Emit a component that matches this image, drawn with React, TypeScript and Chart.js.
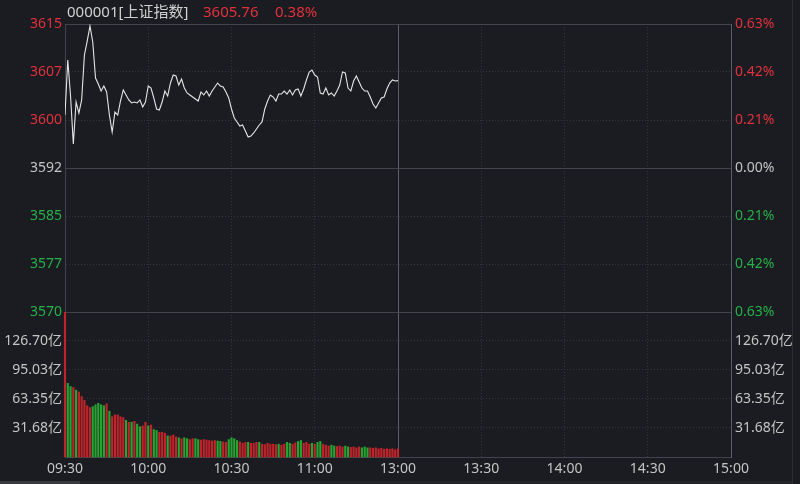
import { useEffect, useRef } from "react"
import { Chart, registerables } from "chart.js"

Chart.register(...registerables)

// previous close and axis spacing (points per grid step)
const prevClose = 3592.11
const priceStep = 7.5
const volMax = 158.37

const stockName = "000001[上证指数]"
const timeLabels = ["09:30", "10:00", "10:30", "11:00", "13:00", "13:30", "14:00", "14:30", "15:00"]
const priceTickLabels = ["3570", "3577", "3585", "3592", "3600", "3607", "3615"]
const pctTickLabels = ["0.63%", "0.42%", "0.21%", "0.00%", "0.21%", "0.42%", "0.63%"]
const volTickValues = [31.68, 63.35, 95.03, 126.7]
const volTickLabels = ["31.68亿", "63.35亿", "95.03亿", "126.70亿"]

// one price per minute, 09:30 - 11:30
const prices = [
  3600.39, 3608.99, 3603.36, 3595.86, 3602.42, 3600.7, 3602.74, 3609.77, 3611.95, 3614.3,
  3611.8, 3606.17, 3605.24, 3604.14, 3604.92, 3603.99, 3600.39, 3597.74, 3600.86, 3600.39,
  3602.58, 3604.3, 3603.52, 3602.74, 3602.27, 3602.42, 3602.27, 3602.74, 3601.64, 3602.42,
  3604.92, 3604.61, 3603.05, 3601.33, 3601.17, 3602.42, 3604.14, 3603.36, 3605.39, 3606.64,
  3606.49, 3605.08, 3606.02, 3604.61, 3603.83, 3603.52, 3603.2, 3602.89, 3602.58, 3603.99,
  3603.52, 3604.14, 3603.36, 3604.14, 3604.77, 3605.39, 3604.92, 3604.77, 3603.99, 3603.05,
  3601.33, 3599.92, 3599.3, 3598.67, 3598.83, 3597.89, 3596.95, 3597.11, 3597.58, 3598.2,
  3598.83, 3599.3, 3601.33, 3602.58, 3603.52, 3603.2, 3602.58, 3603.67, 3603.67, 3604.14,
  3603.67, 3604.3, 3603.52, 3604.3, 3604.45, 3603.36, 3604.45, 3605.86, 3607.11, 3607.42,
  3606.64, 3606.33, 3603.83, 3603.67, 3604.61, 3603.52, 3603.83, 3603.36, 3604.14, 3605.08,
  3607.11, 3606.95, 3604.61, 3604.14, 3605.7, 3606.49, 3605.55, 3604.61, 3604.14, 3604.14,
  3603.2, 3602.11, 3601.48, 3602.27, 3603.05, 3603.2, 3604.45, 3605.39, 3605.86, 3605.7,
  3605.76,
]

// turnover per minute, 亿
const volumes = [
  158, 80.5, 77, 76, 73, 71, 66, 62, 56, 54,
  55, 57, 58.6, 57, 56, 58, 50, 44, 46, 46,
  44, 43, 40, 38, 38, 39, 36, 33, 34, 38,
  34, 35, 30, 29, 27, 27, 26, 23, 23, 24,
  22, 21, 20, 21, 20, 19, 20, 20, 19, 18.5,
  19, 18.5, 18, 17.5, 18, 17.5, 17, 16.5, 16, 19,
  21, 20, 18, 16.5, 15, 16, 16, 15, 15, 16,
  16, 14, 13.5, 15, 14, 14, 13.5, 14, 13, 14,
  16, 15, 14, 15.5, 17, 18, 15, 16, 14, 15,
  14, 16, 17, 14, 13, 12, 13, 12, 11.5, 12,
  11, 12, 11, 10.5, 11, 10, 11, 10, 11, 10,
  10, 9.5, 10, 9, 9.5, 8.5, 9, 8.5, 9, 8,
  9,
]

// r = up minute, g = down minute
const volumeDirs = [
  "r", "g", "g", "r", "g", "r", "r", "r", "r", "r",
  "g", "g", "g", "g", "g", "r", "g", "r", "r", "r",
  "r", "r", "g", "r", "g", "r", "g", "g", "r", "r",
  "g", "r", "g", "g", "r", "r", "r", "g", "r", "r",
  "r", "g", "r", "g", "g", "r", "r", "g", "g", "r",
  "r", "r", "r", "r", "r", "g", "g", "r", "r", "g",
  "g", "g", "g", "r", "r", "r", "g", "r", "r", "r",
  "g", "r", "r", "r", "r", "r", "r", "g", "r", "r",
  "g", "g", "r", "r", "g", "g", "r", "r", "r", "g",
  "r", "g", "g", "r", "r", "r", "g", "g", "r", "r",
  "r", "g", "g", "r", "r", "r", "r", "g", "g", "g",
  "r", "r", "r", "r", "r", "r", "r", "r", "r", "r",
  "r",
]

const FONT = "'Noto Sans', 'Noto Sans CJK SC', sans-serif"
const BG = "#1b1c21"
const RED = "#e0323c"
const GREEN = "#25b04a"
const GRAY = "#c4c4c4"
const BAR_RED = "#c0242a"
const BAR_GREEN = "#26a532"
const GRID = "#33353c"
const SOLID = "#41444c"
const BRIGHT = "#5a5d65"

const priceTicks = priceTickLabels.map((_, i) => prevClose + (i - 3) * priceStep)
const sideColor = (i: number) => (i < 3 ? GREEN : i > 3 ? RED : GRAY)
const solidPriceLine = (i: number) => i === 0 || i === 3 || i === 6

export default function App() {
  const canvasRef = useRef<HTMLCanvasElement>(null)
  const chartRef = useRef<Chart | null>(null)

  const last = prices[prices.length - 1]
  const changePct = ((last / prevClose - 1) * 100).toFixed(2) + "%"

  useEffect(() => {
    const ctx = canvasRef.current?.getContext("2d")
    if (!ctx) return
    if (chartRef.current) chartRef.current.destroy()

    const tickFont = { family: FONT, size: 14 }

    chartRef.current = new Chart(ctx, {
      type: "bar",
      data: {
        datasets: [
          {
            type: "line",
            data: prices.map((p, i) => ({ x: i, y: p })),
            xAxisID: "x",
            yAxisID: "price",
            borderColor: "#e6e6e6",
            borderWidth: 1.1,
            pointRadius: 0,
            tension: 0,
          },
          {
            type: "bar",
            data: volumes.map((v, i) => ({ x: i, y: v })),
            xAxisID: "x",
            yAxisID: "vol",
            backgroundColor: volumeDirs.map((d) => (d === "r" ? BAR_RED : BAR_GREEN)),
            barThickness: 1.5,
            clip: false,
          },
        ] as any,
      },
      options: {
        responsive: true,
        maintainAspectRatio: false,
        animation: false,
        events: [],
        layout: { padding: { top: 24, left: 0, right: 0, bottom: 0 } },
        plugins: { legend: { display: false }, tooltip: { enabled: false } },
        scales: {
          x: {
            type: "linear",
            min: 0,
            max: 240,
            offset: false,
            afterBuildTicks: (s: any) => {
              s.ticks = timeLabels.map((_, i) => ({ value: i * 30 }))
            },
            afterFit: (s: any) => {
              s.height = 27
            },
            ticks: {
              callback: (_v: any, i: number) => timeLabels[i],
              color: GRAY,
              font: tickFont,
              padding: 4,
              maxRotation: 0,
              autoSkip: false,
            },
            grid: {
              offset: false,
              drawTicks: false,
              color: (c: any) =>
                c.index === 4 ? BRIGHT : c.index === 0 || c.index === 8 ? "transparent" : GRID,
            },
            border: {
              color: SOLID,
              dash: (c: any) => (c.type === "tick" && c.index !== 4 ? [1, 2] : []),
            },
          },
          vol: {
            type: "linear",
            position: "left",
            stack: "left",
            stackWeight: 145,
            min: 0,
            max: volMax,
            afterBuildTicks: (s: any) => {
              s.ticks = volTickValues.map((v) => ({ value: v }))
            },
            afterFit: (s: any) => {
              s.width = 65
            },
            ticks: {
              callback: (_v: any, i: number) => volTickLabels[i],
              color: GRAY,
              font: tickFont,
              padding: 3,
            },
            grid: { drawTicks: false, color: GRID },
            border: {
              color: SOLID,
              dash: (c: any) => (c.type === "tick" ? [1, 2] : []),
            },
          },
          price: {
            type: "linear",
            position: "left",
            stack: "left",
            stackWeight: 288,
            min: priceTicks[0],
            max: priceTicks[priceTicks.length - 1],
            afterBuildTicks: (s: any) => {
              s.ticks = priceTicks.map((v) => ({ value: v }))
            },
            afterFit: (s: any) => {
              s.width = 65
            },
            ticks: {
              callback: (_v: any, i: number) => priceTickLabels[i],
              color: (c: any) => sideColor(c.index),
              font: tickFont,
              padding: 3,
            },
            grid: {
              drawTicks: false,
              color: (c: any) => (solidPriceLine(c.index) ? SOLID : GRID),
            },
            border: {
              color: SOLID,
              dash: (c: any) => (c.type === "tick" && !solidPriceLine(c.index) ? [1, 2] : []),
            },
          },
          pct: {
            type: "linear",
            position: "right",
            stack: "right",
            stackWeight: 288,
            min: priceTicks[0],
            max: priceTicks[priceTicks.length - 1],
            afterBuildTicks: (s: any) => {
              s.ticks = priceTicks.map((v) => ({ value: v }))
            },
            afterFit: (s: any) => {
              s.width = 69
            },
            ticks: {
              callback: (_v: any, i: number) => pctTickLabels[i],
              color: (c: any) => sideColor(c.index),
              font: tickFont,
              padding: 4,
            },
            grid: { display: false, drawTicks: false },
            border: { color: BRIGHT },
          },
          volR: {
            type: "linear",
            position: "right",
            stack: "right",
            stackWeight: 145,
            min: 0,
            max: volMax,
            afterBuildTicks: (s: any) => {
              s.ticks = volTickValues.map((v) => ({ value: v }))
            },
            afterFit: (s: any) => {
              s.width = 69
            },
            ticks: {
              callback: (_v: any, i: number) => volTickLabels[i],
              color: GRAY,
              font: tickFont,
              padding: 4,
            },
            grid: { display: false, drawTicks: false },
            border: { color: BRIGHT },
          },
        } as any,
      },
    })

    return () => {
      if (chartRef.current) {
        chartRef.current.destroy()
        chartRef.current = null
      }
    }
  }, [])

  const headStyle = {
    position: "absolute" as const,
    top: 1,
    fontFamily: FONT,
    fontSize: 15,
    lineHeight: "20px",
    whiteSpace: "nowrap" as const,
  }

  return (
    <div style={{ position: "fixed", left: 0, top: 0, width: 800, height: 484, background: BG, overflow: "hidden" }}>
      <div style={{ position: "absolute", left: 0, top: 0, width: 800, height: 484 }}>
        <canvas ref={canvasRef}></canvas>
      </div>
      <span style={{ ...headStyle, left: 67, color: "#d0d0d0" }}>{stockName}</span>
      <span style={{ ...headStyle, left: 203, color: RED }}>{last.toFixed(2)}</span>
      <span style={{ ...headStyle, left: 275, color: RED }}>{changePct}</span>
      <div style={{ position: "absolute", left: 792, top: 0, width: 1, height: 484, background: "#2c2d33" }}></div>
      <div style={{ position: "absolute", left: 0, top: 481, width: 792, height: 3, background: "#222328" }}></div>
      <div style={{ position: "absolute", left: 0, top: 481, width: 80, height: 3, background: "#3a3b41" }}></div>
    </div>
  )
}
